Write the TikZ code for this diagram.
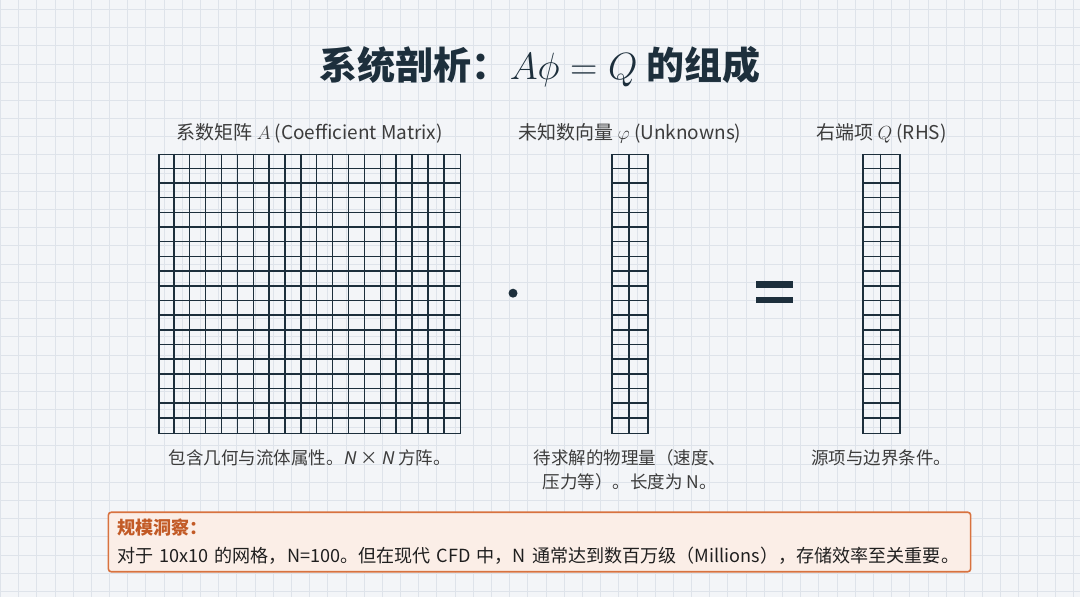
\RequirePackage{fix-cm}
\documentclass[tikz,border=0pt]{standalone}
\usepackage[no-math]{fontspec}
\setmainfont{Noto Sans CJK SC}
\newfontfamily\slantsans{Noto Sans CJK SC}[FakeSlant=0.2]
\usetikzlibrary{positioning}
\definecolor{paper}{HTML}{F3F5F8}
\definecolor{paperline}{HTML}{DEE3EA}
\definecolor{ink}{HTML}{1D2F3C}
\definecolor{textgray}{HTML}{3C3C3C}
\definecolor{insightfill}{HTML}{FBEEE7}
\definecolor{insightdraw}{HTML}{D8723F}
\definecolor{insighttitle}{HTML}{C25A26}

\begin{document}
\begin{tikzpicture}[x=1pt,y=-1pt,node distance=10pt,
    bg line/.style={draw=paperline,line width=0.8pt},
    cell line/.style={draw=ink,line width=1.4pt},
    mat box/.style={draw=ink,line width=1.7pt,inner sep=0pt,minimum height=279pt},
    head node/.style={inner sep=0pt,text=textgray,font=\fontsize{19}{23}\selectfont},
    note node/.style={inner sep=0pt,text=textgray,align=center,font=\fontsize{17.5}{24}\selectfont},
    title node/.style={text=ink,font=\fontsize{38}{45}\selectfont\bfseries},
    insight box/.style={draw=insightdraw,fill=insightfill,line width=1.6pt,rounded corners=3pt,
      align=left,text width=845pt,inner xsep=9pt,inner ysep=7pt,text=black!88,
      font=\fontsize{18.1}{28}\selectfont}]
    % background paper
    \fill[paper] (0,0) rectangle (1080,597);
    \foreach \i in {0,...,59} \draw[bg line] (\i*18.2,0) -- (\i*18.2,597);
    \foreach \i in {0,...,32} \draw[bg line] (0,9+\i*18.2) -- (1080,9+\i*18.2);
    \useasboundingbox (0,0) rectangle (1080,597);

    \node[title node] (title) at (540,66) {系统剖析：$A\phi = Q$ 的组成};

    % the three blocks
    \node[mat box,minimum width=302pt] (A) at (309.5,293.8) {};
    \node[mat box,minimum width=36.6pt] (phi) at (630,293.8) {};
    \node[mat box,minimum width=36.6pt] (Q) at (881.7,293.8) {};
    \begin{scope}[shift={(A.north west)}]
      \foreach \i in {1,...,18} {
        \draw[cell line] (\i*15.895,0) -- (\i*15.895,279);
        \draw[cell line] (0,\i*14.684) -- (302,\i*14.684);
      }
    \end{scope}
    \foreach \v in {phi,Q} {
      \begin{scope}[shift={(\v.north west)}]
        \draw[cell line] (18.3,0) -- (18.3,279);
        \foreach \i in {1,...,18} \draw[cell line] (0,\i*14.684) -- (36.6,\i*14.684);
      \end{scope}
    }

    \node[circle,fill=ink,inner sep=0pt,minimum size=9pt] (dot) at (513,293) {};
    \fill[ink] (756,281) rectangle (793,287.5);
    \fill[ink] (756,296.5) rectangle (793,303);

    \node[head node,above=10pt of A] (Ahead) {系数矩阵 $A$ (Coefficient Matrix)};
    \node[head node,above=10pt of phi] (phihead) {未知数向量 $\varphi$ (Unknowns)};
    \node[head node,above=10pt of Q] (Qhead) {右端项 $Q$ (RHS)};

    \node[note node,below=15pt of A] (Anote) {包含几何与流体属性。{\slantsans N} × {\slantsans N} 方阵。};
    \node[note node,below=15pt of phi] (phinote) {待求解的物理量（速度、\\压力等）。长度为 N。};
    \node[note node,below=15pt of Q] (Qnote) {源项与边界条件。};

    \node[insight box] (insight) at (539.5,542) {{\color{insighttitle}\bfseries 规模洞察：}\\
      对于 10x10 的网格，N=100。但在现代 CFD 中，N 通常达到数百万级（Millions），存储效率至关重要。};
\end{tikzpicture}
\end{document}
